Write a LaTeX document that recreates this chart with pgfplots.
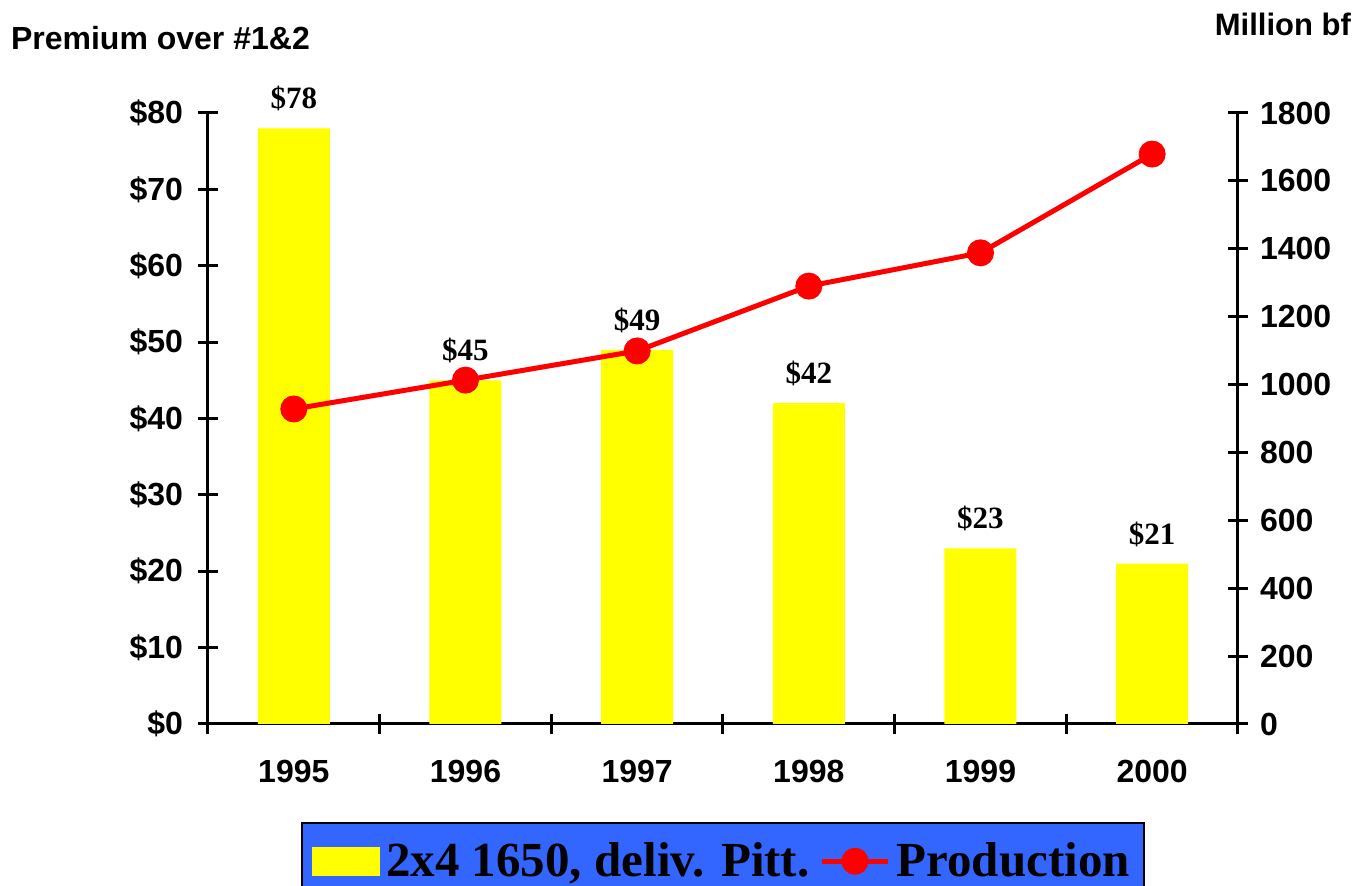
\documentclass[border=0pt]{standalone}
\usepackage{pgfplots}
\pgfplotsset{compat=1.18}
\usepackage{fontspec}
\setmainfont{Liberation Serif}
\setsansfont{Liberation Sans}
\definecolor{legblue}{RGB}{51,102,255}
\definecolor{baryellow}{RGB}{255,255,0}

\begin{document}
\begin{tikzpicture}
\pgfplotsset{
  every axis/.append style={
    width=515pt, height=305.5pt, scale only axis,
    xmin=-0.5, xmax=5.5,
    axis line style={line width=1.5pt},
    tick style={line width=1.5pt, black},
    major tick length=10pt,
    /pgf/number format/assume math mode=true,
    /pgf/number format/1000 sep={},
    ticklabel style={font=\sffamily\bfseries\fontsize{16}{18}\selectfont},
  }
}
% bars: premium, left axis
\begin{axis}[
  ybar,
  axis x line*=bottom, axis y line*=left,
  xtick align=center, ytick align=center,
  ymin=0, ymax=80, ytick={0,10,...,80},
  yticklabel={\$\pgfmathprintnumber{\tick}},
  yticklabel style={xshift=-4pt},
  xtick={-0.5,0.5,...,5.5}, xticklabels={},
  extra x ticks={0,1,2,3,4,5},
  extra x tick labels={1995,1996,1997,1998,1999,2000},
  extra x tick style={major tick length=0pt},
  xticklabel style={yshift=-14.5pt},
  nodes near coords={\$\pgfmathprintnumber{\pgfplotspointmeta}},
  nodes near coords style={font=\rmfamily\bfseries\fontsize{15.5}{17}\selectfont, text=black, yshift=5pt},
]
\addplot[fill=baryellow, draw=none, bar width=36pt] coordinates {
  (0,78) (1,45) (2,49) (3,42) (4,23) (5,21)
};
\end{axis}
% line: production, right axis
\begin{axis}[
  axis y line*=right, axis x line=none,
  ytick align=center,
  ymin=0, ymax=1800, ytick={0,200,...,1800},
  yticklabel style={xshift=2.5pt},
  legend columns=2,
  legend style={
    at={(0.5,-0.16)}, anchor=north,
    fill=legblue, draw=black, line width=1pt,
    inner xsep=5pt, inner ysep=8pt,
    font=\rmfamily\bfseries\fontsize{24.5}{28}\selectfont,
    /tikz/every odd column/.append style={column sep=1pt},
    /tikz/every even column/.append style={column sep=3pt},
  },
]
\addlegendimage{legend image code/.code={\fill[baryellow] (0cm,-0.24cm) rectangle (1.16cm,0.24cm);}}
\addlegendentry{2x4 1650, deliv. Pitt.}
\addplot[red, line width=2.5pt, mark=*, mark size=6.5pt,
  mark options={fill=red, draw=red, line width=0.5pt},
  legend image code/.code={\draw[mark repeat=2,mark phase=2] plot coordinates {(0cm,0cm) (0.58cm,0cm) (1.16cm,0cm)};}
] coordinates {
  (0,928) (1,1013) (2,1099) (3,1290) (4,1388) (5,1679)
};
\addlegendentry{Production}
\end{axis}
\node[anchor=west, font=\sffamily\bfseries\fontsize{16}{18}\selectfont] at (-102pt,343pt) {Premium over \#1\&2};
\node[anchor=east, font=\sffamily\bfseries\fontsize{15.5}{18}\selectfont] at (575pt,350pt) {Million bf};
\pgfresetboundingbox
\path[use as bounding box] (-104pt,-81pt) rectangle (577pt,362pt);
\end{tikzpicture}
\end{document}
